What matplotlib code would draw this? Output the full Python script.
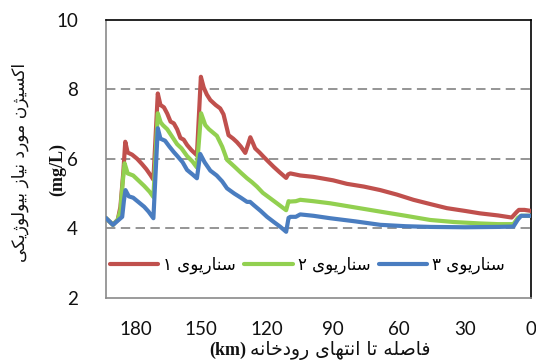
import matplotlib
matplotlib.use("Agg")
import matplotlib.pyplot as plt

# ---------------- data ----------------
km_red = [193.5, 190.2, 188, 186.8, 185.5, 184.6, 183.5, 181.5, 179.2, 177, 175, 173, 171.8,
          169.8, 168.6, 167, 165.5, 164, 162.5, 161, 159.5, 158, 156.5, 154.5, 152,
          150.2, 148.9, 147.5, 145.9, 143.5, 141.4, 139.9, 137.6, 135.5, 133.8, 132, 130,
          128.8, 127.7, 126.5, 125.5, 123.5, 121.7, 119.5, 117.1, 114.5, 111.4, 110.5, 109.5,
          105, 99, 90, 83.8, 76, 68.6, 61, 53.5, 46, 38.3, 30, 23.2, 15, 8.8, 6.5, 5.5, 3, 0]
bod_red = [4.30, 4.10, 4.25, 4.62, 5.6, 6.49, 6.18, 6.12, 6.00, 5.85, 5.70, 5.52, 5.40,
           7.88, 7.55, 7.48, 7.30, 7.07, 7.02, 6.85, 6.60, 6.55, 6.40, 6.25, 6.10,
           8.36, 8.05, 7.85, 7.69, 7.55, 7.45, 7.28, 6.68, 6.58, 6.48, 6.35, 6.17,
           6.40, 6.62, 6.45, 6.30, 6.18, 6.06, 5.92, 5.77, 5.62, 5.45, 5.55, 5.58,
           5.52, 5.48, 5.38, 5.28, 5.20, 5.10, 4.97, 4.82, 4.70, 4.58, 4.50, 4.43, 4.37, 4.31, 4.47, 4.53, 4.53, 4.50]

km_green = [193.5, 190.2, 188, 186.8, 185.8, 184.9, 183.5, 181, 179, 176, 173.5, 171.8,
            169.8, 168.5, 167.5, 165.5, 163.3, 161, 159, 156.5, 154, 152,
            150.1, 148.2, 146.5, 142.9, 140.5, 138.3, 135, 132, 129.2, 127, 124.7, 122, 119, 115.6, 111.4,
            110.3, 109.5, 107, 105, 99, 91.4, 80, 68.6, 57, 45.9, 35, 23.2, 15, 8, 6, 4.5, 0]
bod_green = [4.30, 4.10, 4.25, 4.52, 5.3, 5.87, 5.58, 5.52, 5.40, 5.22, 5.05, 4.90,
             7.31, 7.05, 6.97, 6.85, 6.64, 6.42, 6.30, 6.08, 5.92, 5.75,
             7.31, 6.97, 6.85, 6.66, 6.35, 5.97, 5.78, 5.60, 5.44, 5.33, 5.20, 5.02, 4.88, 4.72, 4.52,
             4.78, 4.77, 4.78, 4.82, 4.78, 4.72, 4.60, 4.48, 4.36, 4.24, 4.18, 4.14, 4.12, 4.12, 4.30, 4.36, 4.36]

km_blue = [193.5, 190.2, 188, 186, 185.2, 184.5, 183, 181, 178.5, 176, 174, 171.8,
           169.8, 168.6, 166.5, 164.5, 162.6, 160.5, 158.5, 156.5, 154, 152,
           150.5, 148.5, 145.9, 143, 140.5, 138.3, 135, 132, 129.2, 127.8, 126, 123, 120.1, 117, 114, 111.4,
           110.3, 109.5, 107, 105, 99, 91.4, 80, 68.6, 57, 45.9, 30, 15, 8, 6, 4.5, 0]
bod_blue = [4.30, 4.10, 4.22, 4.33, 4.8, 5.10, 4.92, 4.88, 4.75, 4.62, 4.48, 4.29,
            6.88, 6.58, 6.52, 6.35, 6.20, 6.05, 5.90, 5.68, 5.55, 5.44,
            6.14, 5.90, 5.66, 5.52, 5.35, 5.15, 5.00, 4.88, 4.76, 4.76, 4.66, 4.50, 4.33, 4.18, 4.04, 3.90,
            4.30, 4.33, 4.33, 4.40, 4.36, 4.29, 4.20, 4.10, 4.06, 4.04, 4.03, 4.04, 4.05, 4.25, 4.36, 4.36]

series_labels = ["سناریوی ۱", "سناریوی ۲", "سناریوی ۳"]
x_ticks = [180, 150, 120, 90, 60, 30, 0]
y_ticks = [2, 4, 6, 8, 10]
x_label_fa = "فاصله تا انتهای رودخانه"
x_label_unit = "(km)"
y_label_fa = "اکسیژن مورد نیاز بیولوژیکی"
y_label_unit = "(mg/L)"

# ---------------- minimal Arabic-script shaping ----------------
FORMS = {
    'ا': ('\uFE8D', '\uFE8E', None, None),
    'ب': ('\uFE8F', '\uFE90', '\uFE91', '\uFE92'),
    'ت': ('\uFE95', '\uFE96', '\uFE97', '\uFE98'),
    'خ': ('\uFEA5', '\uFEA6', '\uFEA7', '\uFEA8'),
    'د': ('\uFEA9', '\uFEAA', None, None),
    'ر': ('\uFEAD', '\uFEAE', None, None),
    'ز': ('\uFEAF', '\uFEB0', None, None),
    'ژ': ('\uFB8A', '\uFB8B', None, None),
    'س': ('\uFEB1', '\uFEB2', '\uFEB3', '\uFEB4'),
    'ص': ('\uFEB9', '\uFEBA', '\uFEBB', '\uFEBC'),
    'ف': ('\uFED1', '\uFED2', '\uFED3', '\uFED4'),
    'ک': ('\uFB8E', '\uFB8F', '\uFB90', '\uFB91'),
    'ل': ('\uFEDD', '\uFEDE', '\uFEDF', '\uFEE0'),
    'م': ('\uFEE1', '\uFEE2', '\uFEE3', '\uFEE4'),
    'ن': ('\uFEE5', '\uFEE6', '\uFEE7', '\uFEE8'),
    'ه': ('\uFEE9', '\uFEEA', '\uFEEB', '\uFEEC'),
    'و': ('\uFEED', '\uFEEE', None, None),
    'ی': ('\uFBFC', '\uFBFD', '\uFBFE', '\uFBFF'),
}


def shape(text):
    out = []
    n = len(text)
    for i, c in enumerate(text):
        if c not in FORMS:
            out.append(c)
            continue
        prev = text[i - 1] if i > 0 else None
        nxt = text[i + 1] if i + 1 < n else None
        jp = prev in FORMS and FORMS[prev][2] is not None
        jn = nxt in FORMS and FORMS[c][2] is not None
        iso, fin, ini, med = FORMS[c]
        if jp and jn:
            out.append(med)
        elif jp:
            out.append(fin)
        elif jn:
            out.append(ini)
        else:
            out.append(iso)
    return ''.join(reversed(out))


# ---------------- figure ----------------
W, H = 536, 362
fig = plt.figure(figsize=(W / 100, H / 100), dpi=100)
L, R, T, B = 105.7, 531, 19.8, 297.8
ax = fig.add_axes([L / W, 1 - B / H, (R - L) / W, (B - T) / H])

colors = ['#C0504D', '#92D050', '#4A7DC0']
for xs, ys, col, lab in zip([km_red, km_green, km_blue], [bod_red, bod_green, bod_blue],
                            colors, series_labels):
    ax.plot(xs, ys, color=col, lw=3.0, solid_capstyle='round', solid_joinstyle='round',
            label=shape(lab), zorder=3)

ax.set_xlim(193.5, 0)
ax.set_ylim(2, 10)
ax.set_xticks(x_ticks)
ax.set_yticks(y_ticks)
ax.set_xticklabels([str(v) for v in x_ticks])
ax.set_yticklabels([str(v) for v in y_ticks])
ax.tick_params(length=0, labelsize=13.5, colors='#111111')
ax.tick_params(axis='x', pad=17)
ax.tick_params(axis='y', pad=20)
for lbl in ax.get_xticklabels() + ax.get_yticklabels():
    lbl.set_family('Lato')

for yv in [4, 6, 8]:
    ax.axhline(yv, color='#8c8c8c', lw=1.3, linestyle=(0, (5.2, 3.0)), zorder=1)

ax.spines['left'].set_color('#8a8a8a')
ax.spines['bottom'].set_color('#8a8a8a')
ax.spines['top'].set_color('black')
ax.spines['right'].set_color('black')
for s in ax.spines.values():
    s.set_linewidth(1.2)

leg = ax.legend(loc='center', bbox_to_anchor=(0.474, 0.118), ncol=3, frameon=False,
                handlelength=2.9, handletextpad=0.3, columnspacing=0.5,
                prop={'family': 'DejaVu Sans', 'size': 12})
for line in leg.get_lines():
    line.set_linewidth(3.0)

# x label: persian + unit (serif)
fig.text(340 / W, 1 - 351 / H, shape(x_label_fa), family='DejaVu Sans', fontsize=13.5,
         ha='center', va='center', color='#111111')
fig.text(228 / W, 1 - 350 / H, x_label_unit, family='Liberation Serif', fontsize=13,
         fontweight='bold', ha='center', va='center', color='#111111')

# y label
fig.text(20 / W, 1 - 162 / H, shape(y_label_fa), family='DejaVu Sans', fontsize=12.3,
         rotation=90, ha='center', va='center', color='#111111')
fig.text(58 / W, 1 - 169 / H, y_label_unit, family='Liberation Serif', fontsize=13,
         fontweight='bold', rotation=90, ha='center', va='center', color='#111111')

fig.savefig('out.png', dpi=100)
